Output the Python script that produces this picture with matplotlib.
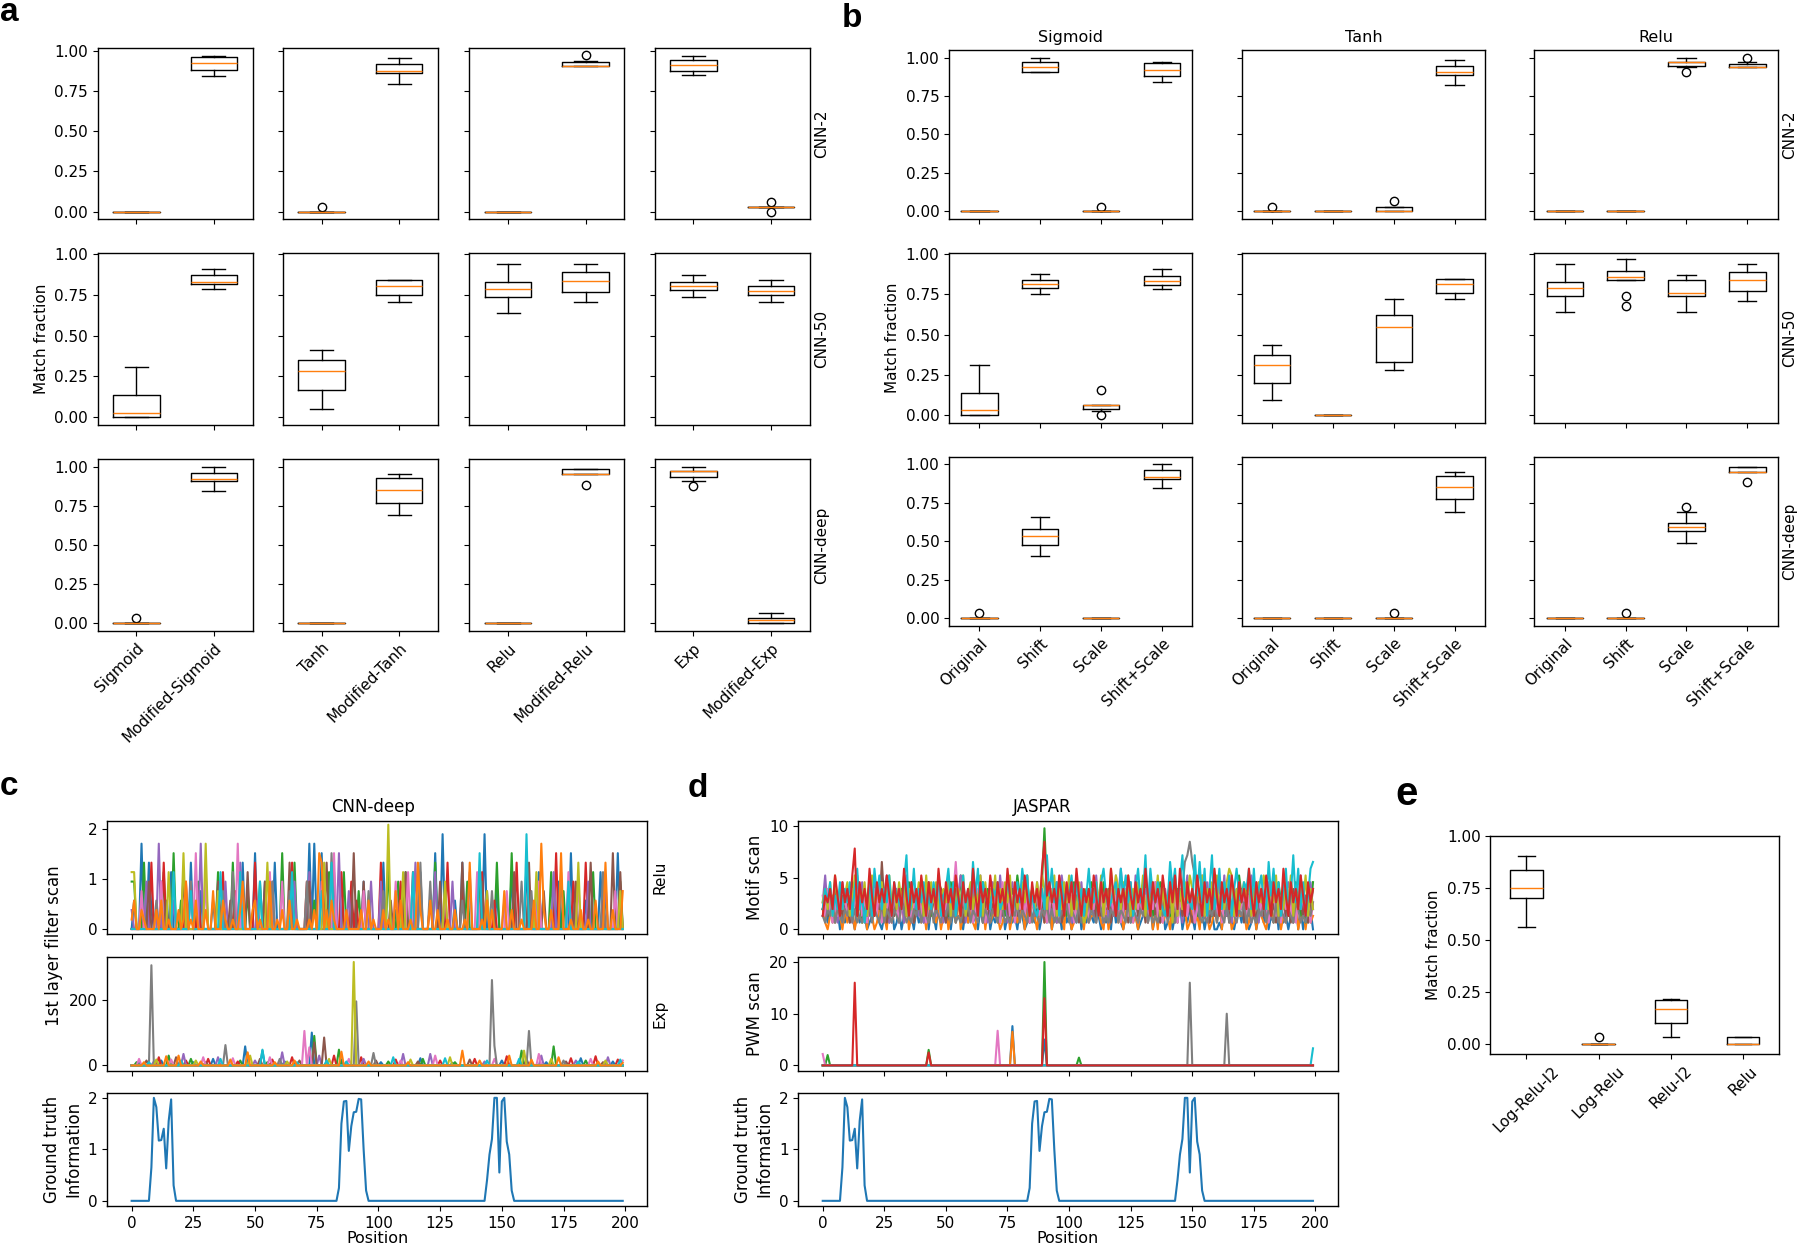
import numpy as np
import matplotlib
matplotlib.use('Agg')
import matplotlib.pyplot as plt

plt.rcParams['font.family'] = 'DejaVu Sans'
plt.rcParams['font.size'] = 11
plt.rcParams['axes.linewidth'] = 1.0

W, H = 1800, 1249

#
# panel a : plain vs modified activation, box stats per model
#
a_models = ['CNN-2', 'CNN-50', 'CNN-deep']
a_labels = ['Sigmoid', 'Modified-Sigmoid', 'Tanh', 'Modified-Tanh',
            'Relu', 'Modified-Relu', 'Exp', 'Modified-Exp']
a_med = {'CNN-2':    [0, 0.923, 0, 0.874, 0, 0.905, 0.909, 0.031],
         'CNN-50':   [0.029, 0.829, 0.282, 0.806, 0.788, 0.837, 0.806, 0.771],
         'CNN-deep': [0, 0.923, 0, 0.855, 0, 0.953, 0.972, 0.017]}
a_q1 = {'CNN-2':    [0, 0.882, 0, 0.859, 0, 0.905, 0.876, 0.031],
        'CNN-50':   [0.0, 0.814, 0.167, 0.749, 0.739, 0.769, 0.780, 0.747],
        'CNN-deep': [0, 0.908, 0, 0.771, 0, 0.953, 0.936, 0.0]}
a_q3 = {'CNN-2':    [0, 0.961, 0, 0.915, 0, 0.930, 0.940, 0.031],
        'CNN-50':   [0.139, 0.869, 0.349, 0.839, 0.831, 0.888, 0.831, 0.806],
        'CNN-deep': [0, 0.964, 0, 0.927, 0, 0.985, 0.972, 0.034]}
a_lo = {'CNN-2':    [0, 0.843, 0, 0.795, 0, 0.905, 0.847, 0.031],
        'CNN-50':   [0.0, 0.784, 0.051, 0.706, 0.641, 0.706, 0.739, 0.706],
        'CNN-deep': [0, 0.844, 0, 0.690, 0, 0.953, 0.908, 0.0]}
a_hi = {'CNN-2':    [0, 0.969, 0, 0.952, 0, 0.936, 0.969, 0.031],
        'CNN-50':   [0.310, 0.910, 0.412, 0.839, 0.937, 0.937, 0.869, 0.839],
        'CNN-deep': [0, 1.0, 0, 0.953, 0, 0.985, 1.0, 0.066]}
a_fl = {'CNN-2':    [[], [], [0.031], [], [], [0.973], [], [0.0, 0.062]],
        'CNN-50':   [[], [], [], [], [], [], [], []],
        'CNN-deep': [[0.032], [], [], [], [], [0.887], [0.876], []]}

#
# panel b : original / shift / scale / shift+scale
#
b_acts = ['Sigmoid', 'Tanh', 'Relu']
b_labels = ['Original', 'Shift', 'Scale', 'Shift+Scale'] * 3
b_med = {'CNN-2':    [0, 0.939, 0, 0.922, 0, 0, 0.0, 0.905, 0, 0, 0.970, 0.937],
         'CNN-50':   [0.033, 0.813, 0.066, 0.832, 0.312, 0, 0.548, 0.813, 0.791, 0.856, 0.758, 0.840],
         'CNN-deep': [0, 0.532, 0, 0.920, 0, 0, 0, 0.853, 0, 0, 0.591, 0.950]}
b_q1 = {'CNN-2':    [0, 0.905, 0, 0.883, 0, 0, 0.0, 0.887, 0, 0, 0.946, 0.937],
        'CNN-50':   [0.0, 0.791, 0.039, 0.811, 0.201, 0, 0.329, 0.758, 0.741, 0.840, 0.741, 0.774],
        'CNN-deep': [0, 0.476, 0, 0.905, 0, 0, 0, 0.772, 0, 0, 0.565, 0.950]}
b_q3 = {'CNN-2':    [0, 0.970, 0, 0.963, 0, 0, 0.026, 0.946, 0, 0, 0.970, 0.961],
        'CNN-50':   [0.142, 0.840, 0.066, 0.867, 0.376, 0, 0.620, 0.846, 0.830, 0.897, 0.838, 0.889],
        'CNN-deep': [0, 0.580, 0, 0.961, 0, 0, 0, 0.927, 0, 0, 0.616, 0.983]}
b_lo = {'CNN-2':    [0, 0.905, 0, 0.842, 0, 0, 0.0, 0.820, 0, 0, 0.939, 0.937],
        'CNN-50':   [0.0, 0.752, 0.025, 0.782, 0.094, 0, 0.281, 0.721, 0.643, 0.840, 0.643, 0.708],
        'CNN-deep': [0, 0.407, 0, 0.845, 0, 0, 0, 0.688, 0, 0, 0.491, 0.950]}
b_hi = {'CNN-2':    [0, 1.0, 0, 0.970, 0, 0, 0.026, 0.983, 0, 0, 1.0, 0.970],
        'CNN-50':   [0.314, 0.877, 0.066, 0.910, 0.439, 0, 0.721, 0.846, 0.936, 0.971, 0.869, 0.936],
        'CNN-deep': [0, 0.657, 0, 1.0, 0, 0, 0, 0.953, 0, 0, 0.690, 0.983]}
b_fl = {'CNN-2':    [[], [], [0.030], [], [0.030], [], [0.065], [], [], [], [0.905], [1.0]],
        'CNN-50':   [[], [], [0.0, 0.158], [], [], [], [], [], [], [0.739, 0.678], [], []],
        'CNN-deep': [[0.034], [], [], [], [], [], [0.034], [], [], [0.034], [0.722], [0.884]]}

#
# panel e
#
e_labels = ['Log-Relu-l2', 'Log-Relu', 'Relu-l2', 'Relu']
e_med = [0.750, 0.0, 0.171, 0.0]
e_q1 = [0.704, 0.0, 0.101, 0.0]
e_q3 = [0.837, 0.0, 0.212, 0.032]
e_lo = [0.564, 0.0, 0.032, 0.0]
e_hi = [0.905, 0.0, 0.216, 0.032]
e_fl = [[], [0.032], [], []]

#
# panel c top : relu filter scans, one hex digit per position (x 0.19)
#
relu_scale = 0.19
relu_blue = "0300900720 0050006000 0000700040 0003000000 0500070000 8000500070 0000040000 0090900800 0060000003 0000500000 0070000200 5000000600 000800a000 0300700000 000a000040 0000600000 7000060000 0005000080 0000300000 6000000800"
relu_green = "5500070000 0006000800 3000000500 0000060000 0700000400 0050000000 0800007000 0000300000 6000006000 0040000000 0000700050 0600000000 0007000300 0000005000 0500000070 0000800000 0030000000 6000040000 0000000600 0040000050"
relu_red = "0000300070 0007000000 0050000400 0000000600 0040000000 7000300000 0000070000 0500000000 0000060005 0300000000 0700000005 0000600000 0300000070 0000500000 0060000300 0000007000 0400000000 0080000005 0000700000 0300000000"
relu_purple = "2000005000 0900000300 0000500090 6000000050 0000700000 0300000500 0000005000 0060000000 0000800040 0000000500 0500000000 0000070000 0006000000 5000000600 0000400000 0300000000 0000050000 0600000300 0000050000 0050000000"
relu_brown = "0000000500 0000300000 0600000000 0000050000 3000000600 0000500000 0000700000 0050000007 0000000000 8000500000 0000030000 0600000000 0000050000 0000700000 0050000000 0000060000 0700000400 0000000000 5000007000 0000080060"
relu_pink = "0000400000 0050000000 0000008000 5000000000 0009040000 0000006000 0500000000 0000000500 0080000000 0000400000 0000000500 0060000000 0000000400 0000000000 6000000000 0040000000 0000050000 0000000600 0500000000 0000004000"
relu_gray = "0000000000 3000000000 0000500000 0000000400 0600000000 0000000500 0000400000 0500000000 0800000000 0000004000 0040000000 0000000700 0500000000 0000300000 0000004000 0000000050 0040000000 0000600000 0000000000 0600000000"
relu_olive = "6600000000 0000060000 0800000000 9000040000 0000000000 0000070000 0000000000 0000000070 0000000000 0000000000 0000b00000 6000000000 0000000500 0000000000 0000400000 0000000000 0000600000 0000000000 0700000000 0000000040"
relu_cyan = "0000000000 0000000600 0000400000 0000006000 0000600000 0050000000 0000060000 0000000400 0700000000 0000000000 0000000000 0000600000 0000000000 0000000000 0800000000 0000000000 a000000000 0000000500 0000000000 0000000000"
relu_orange = "1300210000 2030010002 0150103000 2004000310 0100250002 3010005001 0200300100 0010208702 0310000200 0002003010 0020100403 0001007200 0300200010 0200010700 0010302000 0400200010 0003009200 2000800010 0020010030 0070020004"

#
# panel c middle : exp filter scans, (position, value) spikes, zero elsewhere
#
exp_blue = [(3, 8), (12, 15), (25, 10), (33, 20), (46, 58), (53, 45), (62, 12), (73, 100), (85, 18), (101, 10), (117, 22), (130, 8), (150, 15), (168, 10), (182, 22), (195, 12)]
exp_green = [(2, 10), (15, 30), (24, 20), (44, 15), (55, 10), (74, 90), (84, 48), (104, 12), (118, 20), (131, 10), (158, 45), (171, 58), (184, 15)]
exp_red = [(11, 25), (22, 15), (31, 20), (43, 12), (57, 18), (65, 25), (82, 30), (93, 25), (107, 18), (125, 15), (139, 20), (152, 28), (178, 22), (188, 28), (197, 18)]
exp_purple = [(9, 12), (21, 35), (35, 25), (50, 15), (61, 40), (76, 30), (94, 20), (110, 35), (121, 35), (143, 12), (166, 30), (180, 15), (193, 25)]
exp_brown = [(6, 15), (18, 25), (30, 10), (52, 20), (68, 15), (74, 70), (78, 85), (99, 15), (116, 12), (137, 18), (160, 20), (176, 12), (191, 10)]
exp_pink = [(3, 20), (16, 18), (29, 25), (41, 22), (56, 25), (70, 105), (72, 55), (88, 20), (109, 15), (123, 30), (147, 20), (165, 35), (186, 20), (199, 15)]
exp_gray = [(8, 305), (38, 62), (60, 20), (91, 195), (98, 38), (146, 260), (147, 60), (161, 105), (175, 15)]
exp_olive = [(10, 18), (26, 15), (48, 30), (63, 12), (80, 20), (90, 315), (113, 18), (129, 25), (159, 45), (170, 20), (192, 15)]
exp_cyan = [(7, 10), (20, 15), (36, 20), (53, 48), (67, 10), (79, 15), (87, 12), (106, 25), (127, 22), (144, 15), (157, 20), (181, 12), (198, 18)]
exp_orange = [(5, 10), (14, 28), (19, 30), (28, 12), (40, 18), (47, 40), (58, 10), (66, 15), (85, 42), (96, 12), (112, 10), (134, 45), (141, 15), (153, 30), (162, 18), (173, 25), (189, 12), (199, 8)]

#
# panel d top : JASPAR motif scans, one hex digit per position (x 0.65)
#
motif_scale = 0.65
motif_blue = "2314213021 3120413201 2431023140 1302412031 2140320413 1203142031 4120312402 1314023120 3201421302 4130213041 2031402132 1420312041 3102413201 2413021340 1302140213 2041302130 0103241023 1420130241 3021403120 2140302130"
motif_orange = "3102514203 1530241305 2013520413 3251402135 1304251302 4023150241 3105240312 5201340251 2403152034 1250314205 3014250312 2531040235 1302541203 4215030412 2043152301 3120452013 1405230142 2301540321 0241350214 3150240312"
motif_green = "3526374253 6374251637 4253647352 5364275346 3647253764 5273648253 6425374625 3746253648 5637462537 f625374652 6374652637 4253746352 5364725346 3746253764 5273646253 6425374625 3746253648 5263746253 4625374652 6374251637"
motif_purple = "4836251473 5264837152 4736258143 6251847362 5147362851 4637258416 3725846137 5284613725 4638152746 3725416853 6148372546 2837461528 5946372815 4628375146 3847261583 5162847362 4738251647 3625847162 5748362517 4163825473"
motif_brown = "3425163425 4136252413 5263a41352 4153624135 2641352463 1354263152 4263514253 6142531642 3524163524 1653425136 2435164253 6142536142 3526143526 4153624135 2641352463 1354263152 4263514253 6142531642 3524163524 1653425136"
motif_pink = "5263142635 2415362514 3627143615 4136251446 2514362714 3625a43625 4136251436 2717362514 3625143625 4136271436 2514362514 3725143625 4136251436 2514372514 3625143625 4136251736 2514362514 3625143725 4136251436 2514362514"
motif_gray = "2132413213 2413121324 1321413213 2143121324 1321413213 2413121324 1321413213 2143121324 1321413213 2413121324 1321413213 2143121324 1321413213 2413121324 1321456abd a862121324 1321413213 2413121324 1321413213 2143121324"
motif_olive = "4637284635 7248364725 8364725846 3748263547 6283747356 4827364825 7364827364 8263748263 5748263748 6374826374 8253741263 5748263948 6374826374 8263748263 5718263748 6374826374 8263798263 5748263748 6374825374 8263748263"
motif_cyan = "3647253736 4726935147 2958364827 5437b24936 4725374825 6947253836 3a59275436 5734475257 4968353246 3b59472736 5837462594 4727953467 3958472694 5b39547432 4a6937b544 3b5a4926b3 5937482695 4769393684 3a59472693 5b4937259a"
motif_red = "2546385274 638c274639 5274648527 4639527463 8527463952 7463852746 3952746385 2746395274 6385274639 d574638527 4739526463 8527463952 6463853746 3952746385 2748395274 6385274639 5274638527 4639527463 8527463952 7463852746"

#
# panel d middle : PWM scans, (position, value) spikes
#
pwm_blue = [(77, 7.6), (90, 5.0)]
pwm_orange = [(77, 6.5)]
pwm_green = [(2, 2.0), (43, 3.0), (90, 20.0), (104, 1.5)]
pwm_pink = [(0, 2.2), (71, 6.7)]
pwm_gray = [(149, 16.0), (164, 10.0)]
pwm_cyan = [(199, 3.3)]
pwm_red = [(13, 16.0), (43, 2.5), (90, 13.0)]

#
# ground truth information content: start position -> values, zero elsewhere
#
gt_segments = {7: [0.0, 0.65, 2.0, 1.82, 1.17, 1.18, 1.4, 0.63, 1.55, 1.97, 0.3, 0.0],
               83: [0.0, 0.25, 1.5, 1.93, 1.94, 0.97, 1.45, 1.72, 1.73, 1.98, 1.97, 1.0, 0.2, 0.0],
               143: [0.0, 0.4, 0.9, 1.2, 2.0, 2.0, 0.55, 1.93, 2.0, 1.15, 0.9, 0.2, 0.0]}
seq_len = 200


def decode(s, scale):
    return np.array([int(c, 16) for c in s.replace(' ', '')]) * scale


def spikes(pairs, n=seq_len):
    y = np.zeros(n)
    for p, v in pairs:
        y[p] = v
    return y


def box_stats(med, q1, q3, lo, hi, fl, labels):
    return [dict(med=m, q1=a, q3=b, whislo=c, whishi=d, fliers=f, label=l)
            for m, a, b, c, d, f, l in zip(med, q1, q3, lo, hi, fl, labels)]


fig = plt.figure(figsize=(18, 12.49), dpi=100)


def add_ax(l, t, r, b):
    return fig.add_axes([l / W, 1 - b / H, (r - l) / W, (b - t) / H])


def side_label(ax, text):
    ax.annotate(text, xy=(1, 0.5), xycoords='axes fraction', xytext=(3.5, 0),
                textcoords='offset points', rotation=90, ha='left', va='center')


box_ticks = [0, 0.25, 0.5, 0.75, 1.0]

#
# panel a
#
a_cols = [97.6, 282.9, 469.4, 654.7]
a_w = 155
a_rows = [(48.3, 219.3), (253.3, 425.0), (459.3, 630.7)]
a_ylims = [(-0.047, 1.015), (-0.047, 1.004), (-0.05, 1.05)]
for i, m in enumerate(a_models):
    stats = box_stats(a_med[m], a_q1[m], a_q3[m], a_lo[m], a_hi[m], a_fl[m], a_labels)
    for j in range(4):
        ax = add_ax(a_cols[j], a_rows[i][0], a_cols[j] + a_w, a_rows[i][1])
        ax.bxp(stats[2 * j:2 * j + 2], widths=0.6)
        ax.set_ylim(*a_ylims[i])
        ax.set_yticks(box_ticks)
        if j > 0:
            ax.tick_params(labelleft=False)
        if i < 2:
            ax.tick_params(labelbottom=False)
        else:
            for lab in ax.get_xticklabels():
                lab.set(rotation=45, ha='right', va='top', rotation_mode='anchor')
        if j == 3:
            side_label(ax, m)
        if i == 1 and j == 0:
            ax.set_ylabel('Match fraction')

#
# panel b
#
b_cols = [949.0, 1241.7, 1534.4]
b_w = 243.3
b_rows = [(50.0, 219.0), (253.3, 422.7), (456.7, 626.0)]
b_ylims = [(-0.05, 1.05), (-0.045, 1.005), (-0.05, 1.05)]
for i, m in enumerate(a_models):
    stats = box_stats(b_med[m], b_q1[m], b_q3[m], b_lo[m], b_hi[m], b_fl[m], b_labels)
    for j in range(3):
        ax = add_ax(b_cols[j], b_rows[i][0], b_cols[j] + b_w, b_rows[i][1])
        ax.bxp(stats[4 * j:4 * j + 4], widths=0.6)
        ax.set_ylim(*b_ylims[i])
        ax.set_yticks(box_ticks)
        if i == 0:
            ax.set_title(b_acts[j], fontsize=11.5)
        if j > 0:
            ax.tick_params(labelleft=False)
        if i < 2:
            ax.tick_params(labelbottom=False)
        else:
            for lab in ax.get_xticklabels():
                lab.set(rotation=45, ha='right', va='top', rotation_mode='anchor')
        if j == 2:
            side_label(ax, m)
        if i == 1 and j == 0:
            ax.set_ylabel('Match fraction')

#
# panels c and d
#
pos = np.arange(seq_len)
cd_rows = [(820.7, 934.0), (956.7, 1070.7), (1092.7, 1206.0)]
c_lr = (107.1, 647.3)
d_lr = (798.2, 1337.5)
gt = np.zeros(seq_len)
for start, vals in gt_segments.items():
    gt[start:start + len(vals)] = vals

relu_series = [('tab:blue', relu_blue), ('tab:green', relu_green), ('tab:red', relu_red),
               ('tab:purple', relu_purple), ('tab:brown', relu_brown), ('tab:pink', relu_pink),
               ('tab:gray', relu_gray), ('tab:olive', relu_olive), ('tab:cyan', relu_cyan),
               ('tab:orange', relu_orange)]
exp_series = [('tab:blue', exp_blue), ('tab:green', exp_green), ('tab:red', exp_red),
              ('tab:purple', exp_purple), ('tab:brown', exp_brown), ('tab:pink', exp_pink),
              ('tab:gray', exp_gray), ('tab:olive', exp_olive), ('tab:cyan', exp_cyan),
              ('tab:orange', exp_orange)]
motif_series = [('tab:blue', motif_blue), ('tab:orange', motif_orange), ('tab:green', motif_green),
                ('tab:purple', motif_purple), ('tab:brown', motif_brown), ('tab:pink', motif_pink),
                ('tab:gray', motif_gray), ('tab:olive', motif_olive), ('tab:cyan', motif_cyan),
                ('tab:red', motif_red)]
pwm_series = [('tab:blue', pwm_blue), ('tab:orange', pwm_orange), ('tab:green', pwm_green),
              ('tab:pink', pwm_pink), ('tab:gray', pwm_gray), ('tab:cyan', pwm_cyan),
              ('tab:red', pwm_red)]

c_axes = [add_ax(c_lr[0], t, c_lr[1], b) for t, b in cd_rows]
d_axes = [add_ax(d_lr[0], t, d_lr[1], b) for t, b in cd_rows]

for col, s in relu_series:
    y = decode(s, relu_scale)
    c_axes[0].plot(np.arange(len(y)), y, color=col)
for col, pairs in exp_series:
    c_axes[1].plot(pos, spikes(pairs), color=col)
for col, s in motif_series:
    y = decode(s, motif_scale)
    d_axes[0].plot(np.arange(len(y)), y, color=col)
for col, pairs in pwm_series:
    d_axes[1].plot(pos, spikes(pairs), color=col)
c_axes[2].plot(pos, gt, color='tab:blue')
d_axes[2].plot(pos, gt, color='tab:blue')

for ax in c_axes + d_axes:
    ax.set_xlim(-9.95, 208.95)
    ax.set_xticks(np.arange(0, 201, 25))
for ax in c_axes[:2] + d_axes[:2]:
    ax.tick_params(labelbottom=False)

c_axes[0].set_ylim(-0.1, 2.17)
c_axes[0].set_yticks([0, 1, 2])
c_axes[1].set_ylim(-16, 331)
c_axes[1].set_yticks([0, 200])
d_axes[0].set_ylim(-0.45, 10.48)
d_axes[0].set_yticks([0, 5, 10])
d_axes[1].set_ylim(-1.03, 21.03)
d_axes[1].set_yticks([0, 10, 20])
for ax in (c_axes[2], d_axes[2]):
    ax.set_ylim(-0.1, 2.1)
    ax.set_yticks([0, 1, 2])
    ax.set_xlabel('Position', fontsize=11.5, labelpad=0)
    ax.set_ylabel('Ground truth\nInformation', fontsize=12)

c_axes[0].set_title('CNN-deep', fontsize=12, x=0.492)
d_axes[0].set_title('JASPAR', fontsize=12, x=0.453)
side_label(c_axes[0], 'Relu')
side_label(c_axes[1], 'Exp')
c_axes[1].set_ylabel('1st layer filter scan', fontsize=12)
c_axes[1].yaxis.label.set_y(1.1)
d_axes[0].set_ylabel('Motif scan', fontsize=12)
d_axes[1].set_ylabel('PWM scan', fontsize=12)

#
# panel e
#
ax_e = add_ax(1490.3, 836.0, 1779.3, 1053.7)
ax_e.bxp(box_stats(e_med, e_q1, e_q3, e_lo, e_hi, e_fl, e_labels), widths=0.45)
ax_e.set_ylim(-0.046, 1.0)
ax_e.set_yticks(box_ticks)
ax_e.set_ylabel('Match fraction')
for lab in ax_e.get_xticklabels():
    lab.set(rotation=45)

#
# panel letters
#
letters = [('a', 0, 20.7, 24), ('b', 842, 26.7, 24), ('c', 0, 795, 24),
           ('d', 688, 796.7, 24), ('e', 1395, 805, 29)]
for txt, x, y, fs in letters:
    fig.text(x / W, 1 - y / H, txt, fontsize=fs, fontweight='bold',
             family='Liberation Sans', ha='left', va='baseline')

fig.savefig('out.png', dpi=100)
